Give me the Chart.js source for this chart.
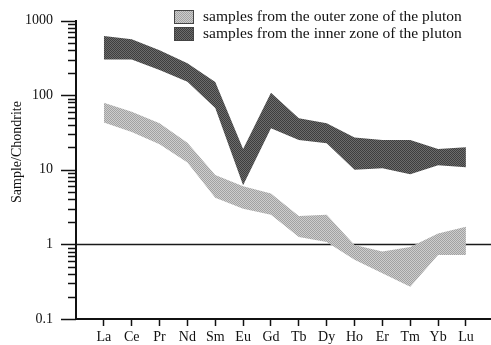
<!DOCTYPE html>
<html>
<head>
<meta charset="UTF-8">
<title>REE pattern</title>
<script src="https://cdn.jsdelivr.net/npm/chart.js"></script>
<style>
    body { margin: 0; padding: 0; background: #ffffff; }
    .wrap { position: relative; width: 491px; height: 345px; }
</style>
</head>
<body>
<div class="wrap"><canvas id="reeChart"></canvas></div>
<script>
// rare earth elements along the x axis
const elements = ['La', 'Ce', 'Pr', 'Nd', 'Sm', 'Eu', 'Gd', 'Tb', 'Dy', 'Ho', 'Er', 'Tm', 'Yb', 'Lu'];

// outer zone of the pluton (light band): upper and lower envelope
const outerTop    = [79, 60, 42, 23, 8.5, 6, 4.8, 2.4, 2.5, 0.98, 0.8, 0.92, 1.4, 1.72];
const outerBottom = [43, 32, 22, 12.5, 4.2, 3, 2.5, 1.26, 1.08, 0.62, 0.41, 0.27, 0.72, 0.72];

// inner zone of the pluton (dark band)
const innerTop    = [620, 560, 400, 267, 150, 19, 108, 49, 42, 27, 25, 25, 19, 20];
const innerBottom = [300, 300, 217, 151, 67, 6.2, 36, 25, 22.6, 10, 10.5, 8.7, 11.5, 10.8];

// chondrite reference value and axis ticks
const refLevel = 1;
const yLabelled = [0.1, 1, 10, 100, 1000];
const legendLabels = ['samples from the outer zone of the pluton', 'samples from the inner zone of the pluton'];
const yTitle = 'Sample/Chondrite';

const serif = '"Liberation Serif", "DejaVu Serif", serif';

// every 1..9 multiple of each decade, for the minor ticks
const yTicks = [];
for (let e = -1; e < 3; e++) {
    for (let m = 1; m < 10; m++) yTicks.push(+(m * Math.pow(10, e)).toPrecision(3));
}
yTicks.push(1000);

// halftone-like fill
function stipple(c1, c2) {
    const p = document.createElement('canvas');
    p.width = 2; p.height = 2;
    const g = p.getContext('2d');
    g.fillStyle = c1; g.fillRect(0, 0, 2, 2);
    g.fillStyle = c2; g.fillRect(0, 0, 1, 1); g.fillRect(1, 1, 1, 1);
    return g.createPattern(p, 'repeat');
}
const lightFill = stipple('#cdcdcd', '#a2a2a2');
const darkFill = stipple('#6c6c6c', '#3e3e3e');

const pts = arr => arr.map((v, i) => ({ x: i + 1, y: v }));
const xMax = 14.9;

// y ticks (long/short), rotated title and legend
const decor = {
    id: 'decor',
    afterDraw(chart) {
        const ctx = chart.ctx;
        const y = chart.scales.y;
        const left = chart.chartArea.left;
        ctx.save();
        ctx.strokeStyle = '#111';
        ctx.lineWidth = 1.5;
        yTicks.forEach(v => {
            const py = Math.round(y.getPixelForValue(v)) + 0.5;
            const len = yLabelled.includes(v) ? 15 : 8;
            ctx.beginPath();
            ctx.moveTo(left - len, py);
            ctx.lineTo(left, py);
            ctx.stroke();
        });

        ctx.fillStyle = '#111';
        ctx.font = '14px ' + serif;
        ctx.textAlign = 'center';
        ctx.textBaseline = 'middle';
        ctx.translate(17, 152);
        ctx.rotate(-Math.PI / 2);
        ctx.fillText(yTitle, 0, 0);
        ctx.restore();

        ctx.save();
        const fills = [lightFill, darkFill];
        ctx.font = '15.5px ' + serif;
        ctx.textBaseline = 'middle';
        legendLabels.forEach((t, i) => {
            const by = 10 + i * 17;
            ctx.fillStyle = fills[i];
            ctx.fillRect(174, by, 19, 13);
            ctx.strokeStyle = '#444';
            ctx.lineWidth = 1;
            ctx.strokeRect(174.5, by + 0.5, 19, 13);
            ctx.fillStyle = '#111';
            ctx.fillText(t, 203, by + 7);
        });
        ctx.restore();
    }
};

new Chart(document.getElementById('reeChart'), {
    type: 'line',
    data: {
        datasets: [
            { data: pts(outerTop), fill: '+1', backgroundColor: lightFill, borderWidth: 0, pointRadius: 0 },
            { data: pts(outerBottom), fill: false, borderWidth: 0, pointRadius: 0 },
            { data: pts(innerTop), fill: '+1', backgroundColor: darkFill, borderWidth: 0, pointRadius: 0 },
            { data: pts(innerBottom), fill: false, borderWidth: 0, pointRadius: 0 },
            { data: [{ x: 0, y: refLevel }, { x: xMax, y: refLevel }], fill: false, borderColor: '#1a1a1a', borderWidth: 1.5, pointRadius: 0 }
        ]
    },
    options: {
        responsive: true,
        maintainAspectRatio: false,
        animation: false,
        layout: { padding: { top: 20.5, right: 0, left: 0, bottom: 0 } },
        plugins: { legend: { display: false }, tooltip: { enabled: false } },
        elements: { line: { tension: 0 } },
        scales: {
            x: {
                type: 'linear',
                min: 0,
                max: xMax,
                afterBuildTicks: s => { s.ticks = elements.map((e, i) => ({ value: i + 1 })); },
                afterFit: s => { s.height = 26; },
                border: { display: true, width: 2, color: '#111' },
                grid: { display: true, drawOnChartArea: false, drawTicks: true, tickLength: 7, tickWidth: 1.5, tickColor: '#111' },
                ticks: {
                    autoSkip: false,
                    maxRotation: 0,
                    padding: 3,
                    color: '#111',
                    font: { family: serif, size: 14 },
                    callback: v => elements[v - 1] || ''
                }
            },
            y: {
                type: 'logarithmic',
                min: 0.1,
                max: 1000,
                afterBuildTicks: s => { s.ticks = yTicks.map(v => ({ value: v })); },
                // labels sit far from the axis, keep that gap out of the vertical padding
                afterFit: s => { s.width = 76; s.paddingTop = 0; s.paddingBottom = 0; },
                border: { display: true, width: 2, color: '#111' },
                grid: { display: false, drawTicks: false },
                ticks: {
                    autoSkip: false,
                    padding: 23,
                    color: '#111',
                    font: { family: serif, size: 14 },
                    callback: v => yLabelled.includes(v) ? String(v) : ''
                }
            }
        }
    },
    plugins: [decor]
});
</script>
</body>
</html>
